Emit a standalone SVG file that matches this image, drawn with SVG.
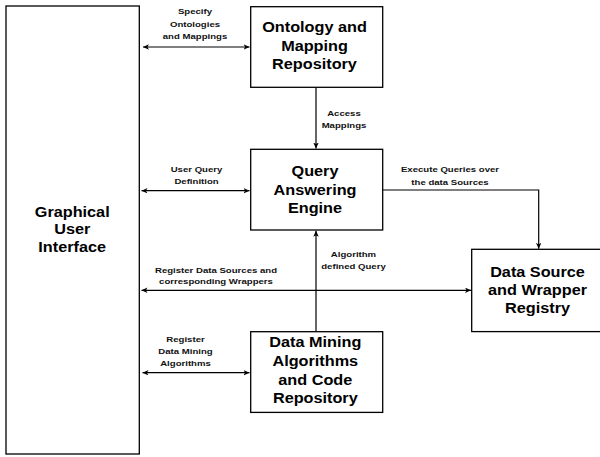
<svg xmlns="http://www.w3.org/2000/svg" width="600" height="457" viewBox="0 0 600 457">
<defs>
<style>
.box{fill:#fff;stroke:#000;stroke-width:1.3}
.ln{fill:none;stroke:#000;stroke-width:1.2}
.nt{font-family:"Liberation Sans",Arial,sans-serif;font-weight:bold;font-size:14px;fill:#000;text-anchor:middle}
.lt{font-family:"Liberation Sans",Arial,sans-serif;font-weight:bold;font-size:8px;fill:#111;text-anchor:middle}
</style>
<marker id="ah" markerUnits="userSpaceOnUse" markerWidth="7" markerHeight="6" refX="6" refY="2.75" orient="auto-start-reverse">
<path d="M0,0 L6,2.75 L0,5.5 L1.6,2.75 z" fill="#000"/>
</marker>
</defs>
<rect width="600" height="457" fill="#fff"/>

<g id="connectors">
<path class="ln" d="M143,47 L249.5,47" marker-start="url(#ah)" marker-end="url(#ah)"/>
<path class="ln" d="M316,87.5 L316,148.5" marker-end="url(#ah)"/>
<path class="ln" d="M141.5,190.7 L249.5,190.7" marker-start="url(#ah)" marker-end="url(#ah)"/>
<path class="ln" d="M383,190 L538.7,190 L538.7,248.8" marker-end="url(#ah)"/>
<path class="ln" d="M141.5,290.3 L471,290.3" marker-start="url(#ah)" marker-end="url(#ah)"/>
<path class="ln" d="M316,331.5 L316,230.8" marker-end="url(#ah)"/>
<path class="ln" d="M142.5,372.7 L249.5,372.7" marker-start="url(#ah)" marker-end="url(#ah)"/>
<g transform="translate(195 0) scale(1.2 1)">
<text class="lt" x="0" y="14.5">Specify</text>
<text class="lt" x="0" y="26.8">Ontologies</text>
<text class="lt" x="0" y="39">and Mappings</text>
</g>
<g transform="translate(344 0) scale(1.2 1)">
<text class="lt" x="0" y="116.5">Access</text>
<text class="lt" x="0" y="127.8">Mappings</text>
</g>
<g transform="translate(196.5 0) scale(1.2 1)">
<text class="lt" x="0" y="171.8">User Query</text>
<text class="lt" x="0" y="184.3">Definition</text>
</g>
<g transform="translate(450 0) scale(1.2 1)">
<text class="lt" x="0" y="172.3">Execute Queries over</text>
<text class="lt" x="0" y="185">the data Sources</text>
</g>
<g transform="translate(216 0) scale(1.2 1)">
<text class="lt" x="0" y="273.3">Register Data Sources and</text>
<text class="lt" x="0" y="284.5">corresponding Wrappers</text>
</g>
<g transform="translate(353.5 0) scale(1.2 1)">
<text class="lt" x="0" y="257.3">Algorithm</text>
<text class="lt" x="0" y="269">defined Query</text>
</g>
<g transform="translate(185.5 0) scale(1.2 1)">
<text class="lt" x="0" y="342.5">Register</text>
<text class="lt" x="0" y="354.3">Data Mining</text>
<text class="lt" x="0" y="366">Algorithms</text>
</g>
</g>

<g id="gui">
<rect class="box" x="6" y="6" width="133.3" height="448"/>
<g transform="translate(72.2 0) scale(1.16 1)">
<text class="nt" x="0" y="216.7">Graphical</text>
<text class="nt" x="0" y="234.5">User</text>
<text class="nt" x="0" y="252.3">Interface</text>
</g>
</g>

<g id="ontology">
<rect class="box" x="250.7" y="6.7" width="132" height="80.6"/>
<g transform="translate(314.5 0) scale(1.16 1)">
<text class="nt" x="0" y="32.3">Ontology and</text>
<text class="nt" x="0" y="50.7">Mapping</text>
<text class="nt" x="0" y="69">Repository</text>
</g>
</g>

<g id="query">
<rect class="box" x="250.7" y="149.3" width="132" height="80.7"/>
<g transform="translate(315 0) scale(1.16 1)">
<text class="nt" x="0" y="176">Query</text>
<text class="nt" x="0" y="194.8">Answering</text>
<text class="nt" x="0" y="213.3">Engine</text>
</g>
</g>

<g id="datasource">
<rect class="box" x="471.7" y="249.3" width="135" height="82.3"/>
<g transform="translate(537.5 0) scale(1.16 1)">
<text class="nt" x="0" y="277.3">Data Source</text>
<text class="nt" x="0" y="295.2">and Wrapper</text>
<text class="nt" x="0" y="313.2">Registry</text>
</g>
</g>

<g id="datamining">
<rect class="box" x="250.7" y="331.7" width="132" height="80.7"/>
<g transform="translate(315.3 0) scale(1.16 1)">
<text class="nt" x="0" y="347.5">Data Mining</text>
<text class="nt" x="0" y="366.2">Algorithms</text>
<text class="nt" x="0" y="384.8">and Code</text>
<text class="nt" x="0" y="403.3">Repository</text>
</g>
</g>
</svg>
